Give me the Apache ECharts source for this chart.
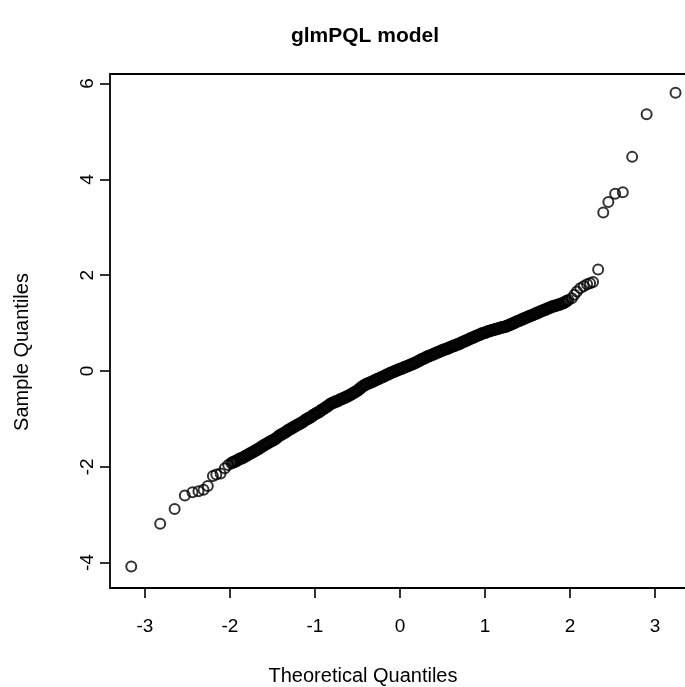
<!DOCTYPE html>
<html>
<head>
<meta charset="utf-8">
<script src="https://cdn.jsdelivr.net/npm/echarts@6/dist/echarts.min.js"></script>
<style>
html,body{margin:0;padding:0;background:#fff;}
#chart{width:685px;height:687px;}
</style>
</head>
<body>
<div id="chart"></div>
<script>
const xTicks = [-3, -2, -1, 0, 1, 2, 3];
const yTicks = [-4, -2, 0, 2, 4, 6];

const lowTailX = [-3.16, -2.82, -2.65, -2.53, -2.44, -2.37, -2.31, -2.26, -2.20, -2.16, -2.11, -2.06, -2.02];
const lowTailY = [-4.08, -3.19, -2.88, -2.60, -2.53, -2.51, -2.48, -2.40, -2.19, -2.16, -2.14, -2.03, -1.96];

const bandNegX = [
  -1.98,-1.96,-1.94,-1.92,-1.90,-1.88,-1.86,-1.84,-1.82,-1.80,
  -1.78,-1.76,-1.74,-1.72,-1.70,-1.68,-1.66,-1.64,-1.62,-1.60,
  -1.58,-1.56,-1.54,-1.52,-1.50,-1.48,-1.46,-1.44,-1.42,-1.40,
  -1.38,-1.36,-1.34,-1.32,-1.30,-1.28,-1.26,-1.24,-1.22,-1.20,
  -1.18,-1.16,-1.14,-1.12,-1.10,-1.08,-1.06,-1.04,-1.02,-1.00,
  -0.98,-0.96,-0.94,-0.92,-0.90,-0.88,-0.86,-0.84,-0.82,-0.80,
  -0.78,-0.76,-0.74,-0.72,-0.70,-0.68,-0.66,-0.64,-0.62,-0.60,
  -0.58,-0.56,-0.54,-0.52,-0.50,-0.48,-0.46,-0.44,-0.42,-0.40,
  -0.38,-0.36,-0.34,-0.32,-0.30,-0.28,-0.26,-0.24,-0.22,-0.20,
  -0.18,-0.16,-0.14,-0.12,-0.10,-0.08,-0.06,-0.04,-0.02
];
const bandNegY = [
  -1.92,-1.90,-1.89,-1.87,-1.85,-1.83,-1.82,-1.80,-1.78,-1.76,
  -1.74,-1.72,-1.70,-1.68,-1.66,-1.64,-1.62,-1.60,-1.57,-1.55,
  -1.53,-1.51,-1.49,-1.47,-1.45,-1.43,-1.41,-1.38,-1.35,-1.33,
  -1.31,-1.29,-1.27,-1.24,-1.22,-1.20,-1.18,-1.16,-1.14,-1.12,
  -1.10,-1.08,-1.06,-1.03,-1.01,-0.99,-0.97,-0.95,-0.92,-0.90,
  -0.88,-0.86,-0.84,-0.81,-0.79,-0.77,-0.74,-0.72,-0.69,-0.67,
  -0.66,-0.64,-0.63,-0.61,-0.59,-0.58,-0.56,-0.55,-0.53,-0.51,
  -0.49,-0.47,-0.45,-0.43,-0.41,-0.38,-0.35,-0.32,-0.30,-0.28,
  -0.26,-0.25,-0.23,-0.22,-0.20,-0.18,-0.17,-0.15,-0.13,-0.12,
  -0.10,-0.08,-0.07,-0.05,-0.03,-0.02,0.00,0.01,0.03
];

const bandPosX = [
  0.00,0.02,0.04,0.06,0.08,0.10,0.12,0.14,0.16,0.18,
  0.20,0.22,0.24,0.26,0.28,0.30,0.32,0.34,0.36,0.38,
  0.40,0.42,0.44,0.46,0.48,0.50,0.52,0.54,0.56,0.58,
  0.60,0.62,0.64,0.66,0.68,0.70,0.72,0.74,0.76,0.78,
  0.80,0.82,0.84,0.86,0.88,0.90,0.92,0.94,0.96,0.98,
  1.00,1.02,1.04,1.06,1.08,1.10,1.12,1.14,1.16,1.18,
  1.20,1.22,1.24,1.26,1.28,1.30,1.32,1.34,1.36,1.38,
  1.40,1.42,1.44,1.46,1.48,1.50,1.52,1.54,1.56,1.58,
  1.60,1.62,1.64,1.66,1.68,1.70,1.72,1.74,1.76,1.78,
  1.80,1.82,1.84,1.86,1.88,1.90,1.92,1.94,1.96
];
const bandPosY = [
  0.04,0.05,0.07,0.08,0.10,0.11,0.13,0.14,0.16,0.17,
  0.19,0.21,0.23,0.25,0.26,0.28,0.30,0.31,0.33,0.34,
  0.36,0.37,0.39,0.40,0.42,0.43,0.45,0.46,0.47,0.49,
  0.50,0.52,0.53,0.54,0.56,0.57,0.59,0.61,0.62,0.64,
  0.65,0.67,0.69,0.70,0.72,0.73,0.75,0.76,0.78,0.79,
  0.80,0.82,0.83,0.84,0.85,0.86,0.87,0.88,0.89,0.90,
  0.91,0.92,0.93,0.94,0.96,0.97,0.99,1.00,1.02,1.04,
  1.05,1.07,1.08,1.10,1.11,1.13,1.14,1.16,1.17,1.19,
  1.20,1.22,1.23,1.25,1.26,1.28,1.29,1.31,1.32,1.34,
  1.35,1.36,1.37,1.38,1.39,1.41,1.42,1.44,1.46
];

const highTailX = [1.98, 2.02, 2.05, 2.08, 2.12, 2.16, 2.20, 2.235, 2.27, 2.33, 2.39, 2.45, 2.53, 2.62, 2.73, 2.90, 3.24];
const highTailY = [1.48, 1.52, 1.59, 1.66, 1.73, 1.77, 1.81, 1.83, 1.86, 2.12, 3.31, 3.53, 3.70, 3.73, 4.47, 5.36, 5.81];

function pairs(xs, ys) { return xs.map((x, i) => [x, ys[i]]); }
const tails = [].concat(pairs(lowTailX, lowTailY), pairs(highTailX, highTailY));
const band = [].concat(pairs(bandNegX, bandNegY), pairs(bandPosX, bandPosY));

const FONT = '"Liberation Sans", Arial, Helvetica, sans-serif';
const chart = echarts.init(document.getElementById('chart'), null, {renderer: 'canvas'});
chart.setOption({
  animation: false,
  backgroundColor: '#fff',
  grid: {left: 110, top: 74, width: 580, height: 514, outerBoundsMode: 'none', containLabel: false,
         show: true, borderColor: '#000', borderWidth: 1.8, backgroundColor: 'transparent'},
  xAxis: {
    type: 'value', min: -3.41, max: 3.41,
    axisLine: {show: false, onZero: false},
    splitLine: {show: false},
    axisTick: {show: true, customValues: xTicks, length: 10, lineStyle: {color: '#000', width: 1.6}},
    axisLabel: {customValues: xTicks, margin: 29, color: '#000', fontSize: 19, fontFamily: FONT}
  },
  yAxis: {
    type: 'value', min: -4.53, max: 6.2,
    axisLine: {show: false, onZero: false},
    splitLine: {show: false},
    axisTick: {show: true, customValues: yTicks, length: 10, lineStyle: {color: '#000', width: 1.6}},
    axisLabel: {customValues: yTicks, rotate: 90, margin: 13, color: '#000', fontSize: 19, fontFamily: FONT}
  },
  graphic: [
    {type: 'text', x: 365, y: 36, style: {text: 'glmPQL model', font: 'bold 21px ' + FONT, fill: '#000', align: 'center', verticalAlign: 'middle'}},
    {type: 'text', x: 363, y: 676, style: {text: 'Theoretical Quantiles', font: '20px ' + FONT, fill: '#000', align: 'center', verticalAlign: 'middle'}},
    {type: 'text', x: 22, y: 352, rotation: Math.PI / 2, style: {text: 'Sample Quantiles', font: '20px ' + FONT, fill: '#000', align: 'center', verticalAlign: 'middle'}}
  ],
  series: [{
    type: 'scatter',
    data: band,
    symbol: 'circle',
    symbolSize: 10,
    silent: true,
    itemStyle: {color: 'rgba(0,0,0,0)', borderColor: '#000', borderWidth: 2.6}
  }, {
    type: 'scatter',
    data: tails,
    symbol: 'circle',
    symbolSize: 10,
    silent: true,
    itemStyle: {color: 'rgba(0,0,0,0)', borderColor: '#000', borderWidth: 2}
  }]
});
</script>
</body>
</html>
